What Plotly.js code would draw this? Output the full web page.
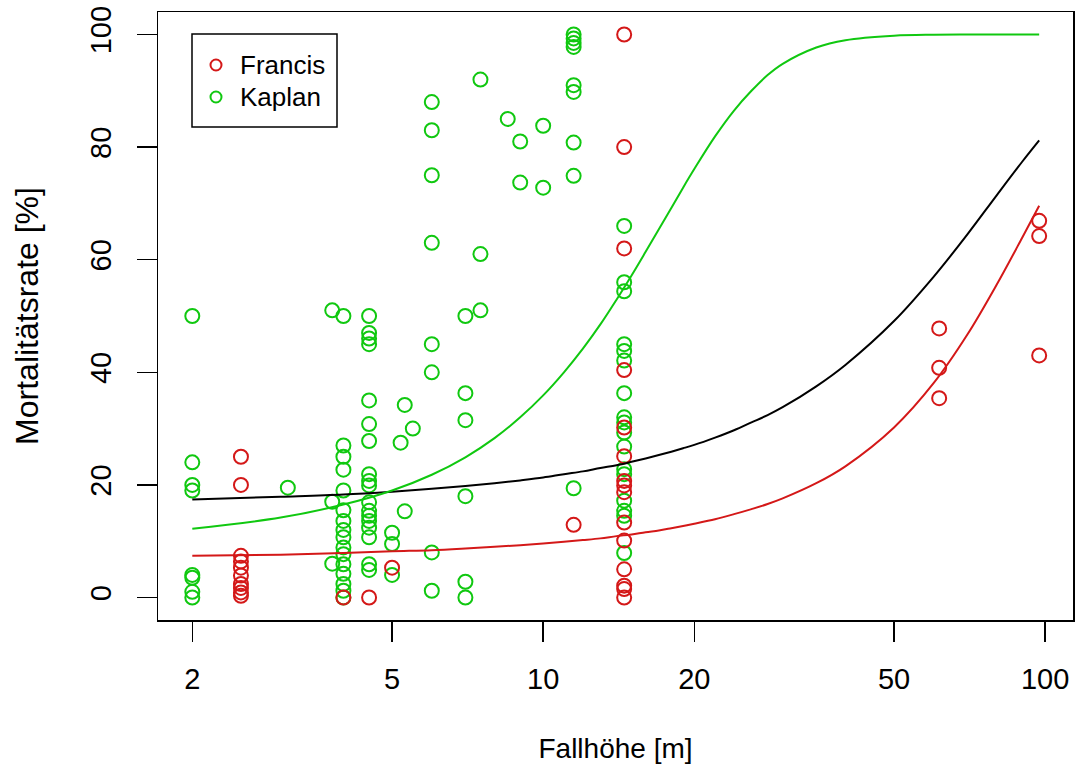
<!DOCTYPE html>
<html>
<head>
<meta charset="utf-8">
<script src="https://cdn.plot.ly/plotly-3.0.1.min.js"></script>
<style>html,body{margin:0;padding:0;background:#fff;}#chart{width:1076px;height:773px;}</style>
</head>
<body>
<div id="chart"></div>
<script>
// Kaplan turbines (green points)
const kaplanX = [
  2,2,2,2,2,2,2,2,
  3.1,
  3.8,3.8,3.8,
  4,4,4,4,4,4,4,4,4,4,4,4,4,4,4,4,
  4.5,4.5,4.5,4.5,4.5,4.5,4.5,4.5,4.5,4.5,4.5,4.5,4.5,4.5,4.5,4.5,4.5,4.5,
  5,5,5,
  5.2,
  5.3,5.3,
  5.5,
  6,6,6,6,6,6,6,6,
  7,7,7,7,7,7,
  7.5,7.5,7.5,
  8.5,
  9,9,
  10,10,
  11.5,11.5,11.5,11.5,11.5,11.5,11.5,11.5,11.5,
  14.5,14.5,14.5,14.5,14.5,14.5,14.5,14.5,14.5,14.5,14.5,14.5,14.5,14.5,14.5,14.5,14.5
];
const kaplanY = [
  50,24,20,19,4,3.5,1,0,
  19.5,
  51,17,6,
  50,27,25,22.7,19,15.5,13.6,12,10.7,8.9,7.7,5.9,4.2,2.4,1.2,0,
  50,47,46,45,35,30.8,27.8,21.9,20.7,19.9,16.9,15.4,14.5,13.6,12.4,10.7,5.9,4.9,
  11.5,9.5,4,
  27.5,
  34.2,15.3,
  30,
  88,83,75,63,45,40,8,1.2,
  50,36.3,31.5,18,2.8,0,
  92,61,51,
  85,
  81,73.7,
  83.8,72.8,
  100,99.3,98.5,97.8,91,89.8,80.8,74.9,19.4,
  66,56,54.4,45,43.8,42.1,36.3,32,31.1,29.3,26.8,22.8,21.9,17.2,15.4,14.5,7.9
];
// Francis turbines (red points)
const francisX = [
  2.5,2.5,2.5,2.5,2.5,2.5,2.5,2.5,2.5,2.5,
  4,
  4.5,
  5,
  11.5,
  14.5,14.5,14.5,14.5,14.5,14.5,14.5,14.5,14.5,14.5,14.5,14.5,14.5,14.5,14.5,
  61.5,61.5,61.5,
  97.3,97.3,97.3
];
const francisY = [
  25,20,7.4,6.4,5.3,3.9,2.4,1.7,0.9,0.3,
  0,
  0,
  5.3,
  12.9,
  100,80,62,40.4,30.2,25.1,20.7,19.9,18.7,13.3,10.1,5,2.1,1.5,0,
  47.8,40.8,35.4,
  66.9,64.2,43
];
// fitted curves
const curveX = [2,3,4,5,6,7,8,9,10,11,12,13,14,15,16,17,18,19,20,22,24,26,28,30,35,40,50,60,70,80,90,97.3];
const curveAll = [17.4,17.9,18.3,18.8,19.3,19.8,20.3,20.8,21.3,21.9,22.4,23.0,23.5,24.1,24.7,25.3,25.9,26.5,27.1,28.4,29.7,31.1,32.4,33.8,37.5,41.3,49.1,57.0,64.5,71.4,77.4,81.2];
const curveKaplan = [12.2,14.2,16.5,19.0,21.8,24.9,28.3,32.0,35.9,40.0,44.2,48.5,52.9,57.2,61.4,65.4,69.2,72.8,76.1,81.9,86.5,90.0,92.8,94.8,97.7,99.0,99.8,99.97,100,100,100,100];
const curveFrancis = [7.4,7.6,7.9,8.2,8.4,8.7,9.0,9.3,9.6,9.9,10.2,10.5,10.9,11.2,11.6,11.9,12.3,12.7,13.1,13.9,14.8,15.7,16.6,17.6,20.3,23.3,30.2,38.1,46.7,55.5,63.9,69.6];

const legendNames = ['Francis', 'Kaplan'];

const xTickVals = [2,5,10,20,50,100];
const xTickText = ['2','5','10','20','50','100'];
const yTickVals = [0,20,40,60,80,100];

const RED = '#D41818';
const GREEN = '#10C810';
const FONT = '"Liberation Sans", Arial, Helvetica, sans-serif';

const traces = [
  {x: kaplanX, y: kaplanY, mode: 'markers', type: 'scatter', name: 'Kaplan',
   marker: {symbol: 'circle-open', size: 14, color: GREEN, line: {width: 2, color: GREEN}}},
  {x: francisX, y: francisY, mode: 'markers', type: 'scatter', name: 'Francis',
   marker: {symbol: 'circle-open', size: 14, color: RED, line: {width: 2, color: RED}}},
  {x: curveX, y: curveAll, mode: 'lines', type: 'scatter', name: 'gesamt',
   line: {color: '#000000', width: 2, shape: 'spline'}},
  {x: curveX, y: curveKaplan, mode: 'lines', type: 'scatter', name: 'Kaplan (Modell)',
   line: {color: GREEN, width: 2, shape: 'spline'}},
  {x: curveX, y: curveFrancis, mode: 'lines', type: 'scatter', name: 'Francis (Modell)',
   line: {color: RED, width: 2, shape: 'spline'}}
];

// legend box drawn in plot-area (paper) coordinates: plot area spans px 158..1073 x 12..620
function px2x(px) { return (px - 158) / 915; }
function px2y(py) { return (620 - py) / 608; }

const legendColors = [RED, GREEN];
const legendRowsPx = [65, 97];

const shapes = [
  {type: 'rect', xref: 'paper', yref: 'paper', x0: px2x(192), x1: px2x(337), y0: px2y(127), y1: px2y(34),
   line: {color: '#000000', width: 1.5}, fillcolor: '#ffffff', layer: 'above'}
];
const annotations = [];
legendNames.forEach((n, i) => {
  shapes.push({type: 'circle', xref: 'paper', yref: 'paper', xsizemode: 'pixel', ysizemode: 'pixel',
    xanchor: px2x(216), yanchor: px2y(legendRowsPx[i]), x0: -5.5, x1: 5.5, y0: -5.5, y1: 5.5,
    line: {color: legendColors[i], width: 2}, layer: 'above'});
  annotations.push({xref: 'paper', yref: 'paper', x: px2x(238), y: px2y(legendRowsPx[i]),
    xanchor: 'left', yanchor: 'middle', showarrow: false, text: n,
    font: {family: FONT, size: 26, color: '#000000'}});
});

const layout = {
  width: 1076, height: 773,
  margin: {l: 158, r: 3, t: 12, b: 153, pad: 0},
  paper_bgcolor: '#ffffff', plot_bgcolor: '#ffffff',
  font: {family: FONT, color: '#000000', size: 28},
  showlegend: false,
  shapes: shapes,
  annotations: annotations,
  xaxis: {
    type: 'log', range: [0.2327, 2.0555],
    tickmode: 'array', tickvals: xTickVals, ticktext: xTickText,
    ticks: 'outside', ticklen: 20, tickwidth: 1.5, tickcolor: '#000000',
    ticklabelstandoff: 13,
    tickfont: {family: FONT, size: 29, color: '#000000'},
    showline: true, mirror: true, linecolor: '#000000', linewidth: 1.5,
    showgrid: false, zeroline: false,
    title: {text: 'Fallhöhe [m]', font: {family: FONT, size: 28, color: '#000000'}, standoff: 44}
  },
  yaxis: {
    range: [-4, 104],
    tickmode: 'array', tickvals: yTickVals,
    tickangle: -90,
    ticks: 'outside', ticklen: 20, tickwidth: 1.5, tickcolor: '#000000',
    ticklabelstandoff: 14,
    tickfont: {family: FONT, size: 29, color: '#000000'},
    showline: true, mirror: true, linecolor: '#000000', linewidth: 1.5,
    showgrid: false, zeroline: false,
    title: {text: 'Mortalitätsrate [%]', font: {family: FONT, size: 32, color: '#000000'}, standoff: 36}
  }
};

Plotly.newPlot('chart', traces, layout, {displayModeBar: false, staticPlot: true});
</script>
</body>
</html>
